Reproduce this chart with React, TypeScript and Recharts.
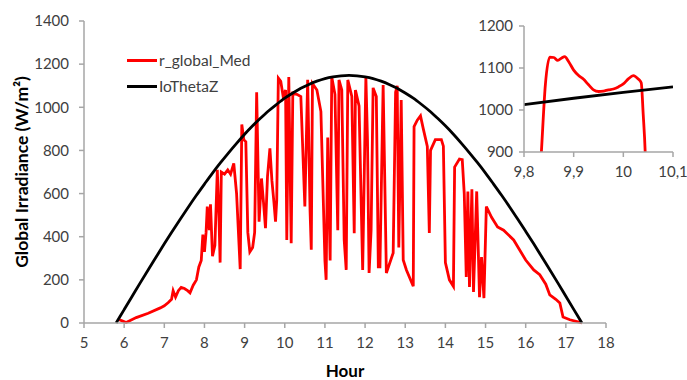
import { LineChart, Line, XAxis, YAxis, Legend, Label } from "recharts";

// hours and measured global irradiance (W/m²)
const globalHours = [
    5.88, 5.95, 6.05, 6.3, 6.6, 6.9, 7.0, 7.1, 7.18, 7.22, 7.28, 7.35, 7.42, 7.5, 7.58, 7.64, 7.72, 7.8, 7.86, 7.92,
    7.96, 8.0, 8.04, 8.07, 8.12, 8.15, 8.2, 8.26, 8.32, 8.36, 8.39, 8.42, 8.5, 8.58, 8.65, 8.73, 8.8, 8.89, 8.93, 8.98,
    9.03, 9.08, 9.13, 9.2, 9.25, 9.3, 9.36, 9.42, 9.47, 9.52, 9.57, 9.63, 9.68, 9.73, 9.77, 9.8, 9.84, 9.9, 9.96, 10.02,
    10.05, 10.1, 10.16, 10.2, 10.3, 10.4, 10.5, 10.57, 10.63, 10.66, 10.69, 10.8, 10.9, 11.0, 11.03, 11.07, 11.13, 11.17, 11.25, 11.32,
    11.35, 11.42, 11.48, 11.53, 11.57, 11.67, 11.73, 11.76, 11.85, 11.94, 12.02, 12.06, 12.1, 12.15, 12.2, 12.28, 12.33, 12.37, 12.45, 12.53,
    12.7, 12.76, 12.8, 12.84, 12.9, 12.95, 13.03, 13.2, 13.22, 13.3, 13.38, 13.45, 13.55, 13.6, 13.63, 13.75, 13.9, 13.95, 14.0, 14.1,
    14.2, 14.23, 14.35, 14.42, 14.47, 14.52, 14.56, 14.6, 14.66, 14.7, 14.78, 14.85, 14.9, 14.96, 15.02, 15.15, 15.3, 15.45, 15.7, 16.0,
    16.2, 16.35, 16.5, 16.6, 16.75, 16.85, 16.93, 17.1, 17.3, 17.4,
];
const globalValues = [
    15, 10, 2, 25, 45, 70, 80, 95, 110, 150, 120, 150, 165, 160, 150, 140, 175, 200, 260, 290,
    410, 330, 420, 540, 430, 550, 310, 360, 710, 500, 280, 700, 690, 710, 690, 740, 600, 250, 920, 850,
    840, 420, 330, 350, 420, 1070, 470, 670, 560, 440, 680, 810, 660, 560, 470, 570, 1135, 1120, 1050, 1080,
    385, 1140, 370, 1066, 1060, 1050, 540, 1127, 520, 340, 1110, 1080, 980, 290, 200, 860, 290, 1140, 1060, 430,
    1127, 1080, 385, 246, 1127, 1050, 416, 1080, 1006, 246, 1140, 850, 232, 430, 1090, 1050, 260, 260, 1103, 232,
    325, 1070, 1100, 350, 1034, 292, 246, 170, 910, 940, 960, 900, 818, 417, 800, 850, 850, 820, 280, 200,
    170, 723, 760, 757, 600, 213, 610, 167, 620, 144, 610, 120, 306, 115, 540, 490, 445, 430, 385, 292,
    246, 224, 180, 130, 110, 93, 28, 15, 5, 0,
];

// extraterrestrial irradiance on horizontal plane
const ioHours = [
    5.8, 6.0, 6.2, 6.4, 6.6, 6.8, 7.0, 7.2, 7.4, 7.6, 7.8, 8.0, 8.2, 8.4, 8.6, 8.8, 9.0, 9.2, 9.4, 9.6,
    9.8, 10.0, 10.2, 10.4, 10.6, 10.8, 11.0, 11.2, 11.4, 11.6, 11.8, 12.0, 12.2, 12.4, 12.6, 12.8, 13.0, 13.2, 13.4, 13.6,
    13.8, 14.0, 14.2, 14.4, 14.6, 14.8, 15.0, 15.2, 15.4, 15.6, 15.8, 16.0, 16.2, 16.4, 16.6, 16.8, 17.0, 17.2, 17.4,
];
const ioValues = [
    0, 62, 124, 186, 247, 307, 367, 425, 482, 538, 592, 644, 695, 743, 789, 833, 875, 914, 950, 984,
    1014, 1042, 1066, 1088, 1106, 1121, 1133, 1141, 1146, 1148, 1146, 1141, 1133, 1121, 1106, 1088, 1066, 1042, 1014, 984,
    950, 914, 875, 833, 789, 743, 695, 644, 592, 538, 482, 425, 367, 307, 247, 186, 124, 62, 0,
];

// zoomed detail around 9.8 - 10.1 h
const zoomHours = [
    9.82, 9.835, 9.843, 9.852, 9.86, 9.868, 9.876, 9.882, 9.89, 9.9, 9.91, 9.92, 9.93, 9.94, 9.95, 9.96, 9.97, 9.98, 9.99, 10.0,
    10.01, 10.02, 10.03, 10.036, 10.04, 10.044, 10.05,
];
const zoomValues = [
    600, 900, 1060, 1126, 1125, 1118, 1124, 1127, 1115, 1095, 1082, 1073, 1060, 1048, 1044, 1045, 1048, 1050, 1055, 1062,
    1074, 1082, 1074, 1065, 990, 900, 600,
];
const zoomIoHours = [9.8, 9.9, 10.0, 10.1];
const zoomIoValues = [1013, 1028, 1042, 1055];

const xTicks = [5, 6, 7, 8, 9, 10, 11, 12, 13, 14, 15, 16, 17, 18];
const yTicks = [0, 200, 400, 600, 800, 1000, 1200, 1400];
const zoomXTicks = [9.8, 9.9, 10.0, 10.1];
const zoomYTicks = [900, 1000, 1100, 1200];

const toRows = (xs: number[], ys: number[]) => xs.map((x, i) => ({ x, y: ys[i] }));

const globalData = toRows(globalHours, globalValues);
const ioData = toRows(ioHours, ioValues);
const zoomData = toRows(zoomHours, zoomValues);
const zoomIoData = toRows(zoomIoHours, zoomIoValues);

const font = "Lato, 'Open Sans', sans-serif";
const axisColor = "#a6a6a6";
const textColor = "#404040";
const tickStyle = { fill: textColor, fontSize: 15, fontFamily: font };

const renderLegend = () => (
    <div style={{ fontFamily: font, fontSize: 15.5, color: textColor }}>
        {[
            { name: "r_global_Med", color: "#ff0000" },
            { name: "IoThetaZ", color: "#000000" },
        ].map((item) => (
            <div key={item.name} style={{ display: "flex", alignItems: "center", height: 26 }}>
                <div style={{ width: 30, height: 3, background: item.color, marginRight: 2 }} />
                <span>{item.name}</span>
            </div>
        ))}
    </div>
);

const App = () => {
    return (
        <div style={{ position: "absolute", left: 0, top: 0, width: 687, height: 380, background: "#fff" }}>
            <LineChart width={687} height={380} margin={{ top: 21, right: 81, bottom: 0, left: 0 }}>
                <XAxis
                    type="number"
                    dataKey="x"
                    domain={[5, 18]}
                    ticks={xTicks}
                    interval={0}
                    stroke={axisColor}
                    strokeWidth={1.5}
                    tickSize={5}
                    tickMargin={9}
                    tick={tickStyle}
                    height={57}
                >
                    <Label
                        value="Hour"
                        position="insideBottom"
                        offset={3}
                        style={{ fill: "#000", fontSize: 17, fontWeight: 700, fontFamily: font }}
                    />
                </XAxis>
                <YAxis
                    type="number"
                    domain={[0, 1400]}
                    ticks={yTicks}
                    interval={0}
                    stroke={axisColor}
                    strokeWidth={1.5}
                    tickSize={5}
                    tickMargin={10}
                    tick={tickStyle}
                    width={84}
                >
                    <Label
                        value="Global Irradiance (W/m²)"
                        angle={-90}
                        position="insideLeft"
                        offset={22}
                        style={{ textAnchor: "middle", fill: "#000", fontSize: 17.5, fontWeight: 700, fontFamily: font }}
                    />
                </YAxis>
                <Legend
                    content={renderLegend}
                    layout="horizontal"
                    verticalAlign="middle"
                    align="center"
                    wrapperStyle={{ left: 127, top: 47, width: 170 }}
                />
                <Line
                    data={globalData}
                    dataKey="y"
                    name="r_global_Med"
                    type="linear"
                    stroke="#ff0000"
                    strokeWidth={2.8}
                    dot={false}
                    isAnimationActive={false}
                />
                <Line
                    data={ioData}
                    dataKey="y"
                    name="IoThetaZ"
                    type="monotone"
                    stroke="#000000"
                    strokeWidth={2.8}
                    dot={false}
                    isAnimationActive={false}
                />
            </LineChart>

            {/* inset */}
            <div style={{ position: "absolute", left: 474, top: 0 }}>
                <LineChart width={213} height={190} margin={{ top: 26, right: 14, bottom: 0, left: 0 }}>
                    <XAxis
                        type="number"
                        dataKey="x"
                        domain={[9.8, 10.1]}
                        allowDataOverflow
                        ticks={zoomXTicks}
                        interval={0}
                        stroke={axisColor}
                        strokeWidth={1.5}
                        tickSize={5}
                        tickMargin={9}
                        tick={tickStyle}
                        tickFormatter={(v: number) => String(Math.round(v * 10) / 10).replace(".", ",")}
                        height={38}
                    />
                    <YAxis
                        type="number"
                        domain={[900, 1200]}
                        allowDataOverflow
                        ticks={zoomYTicks}
                        interval={0}
                        stroke={axisColor}
                        strokeWidth={1.5}
                        tickSize={5}
                        tickMargin={6}
                        tick={tickStyle}
                        width={50}
                    />
                    <Line
                        data={zoomData}
                        dataKey="y"
                        type="monotone"
                        stroke="#ff0000"
                        strokeWidth={2.8}
                        dot={false}
                        isAnimationActive={false}
                    />
                    <Line
                        data={zoomIoData}
                        dataKey="y"
                        type="linear"
                        stroke="#000000"
                        strokeWidth={2.8}
                        dot={false}
                        isAnimationActive={false}
                    />
                </LineChart>
            </div>
        </div>
    );
};

export default App;
